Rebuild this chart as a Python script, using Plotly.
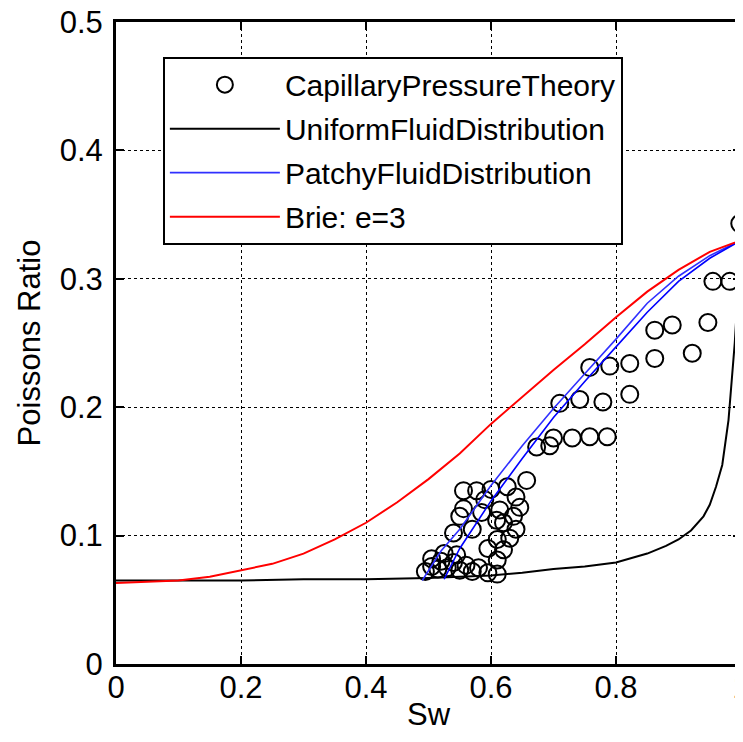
import plotly.graph_objects as go

# Capillary pressure theory (open circles)
cap_sw = [0.495, 0.505, 0.515, 0.52, 0.53, 0.54, 0.55, 0.56, 0.57, 0.58, 0.595, 0.61,
          0.505, 0.525, 0.545,
          0.61, 0.62, 0.61, 0.54, 0.62, 0.55, 0.609, 0.636, 0.556, 0.614, 0.646,
          0.556, 0.577, 0.60, 0.626, 0.657, 0.64, 0.585, 0.59, 0.57, 0.595, 0.63, 0.64,
          0.673, 0.694, 0.70, 0.73, 0.758, 0.786,
          0.71, 0.742, 0.779, 0.822,
          0.758, 0.79, 0.822, 0.862, 0.922,
          0.862, 0.89, 0.947,
          0.955, 0.982,
          0.998]
cap_pr = [0.072, 0.076, 0.074, 0.080, 0.075, 0.079, 0.073, 0.077, 0.072, 0.075, 0.071, 0.070,
          0.082, 0.086, 0.085,
          0.081, 0.089, 0.097, 0.102, 0.110, 0.115, 0.112, 0.115, 0.121, 0.120, 0.122,
          0.135, 0.135, 0.136, 0.138, 0.143, 0.130, 0.118, 0.128, 0.105, 0.090, 0.098, 0.105,
          0.169, 0.170, 0.176, 0.176, 0.177, 0.177,
          0.203, 0.206, 0.204, 0.210,
          0.231, 0.232, 0.234, 0.238, 0.242,
          0.260, 0.264, 0.266,
          0.298, 0.298,
          0.343]

# Uniform fluid distribution
uni_sw = [0, 0.1, 0.2, 0.3, 0.4, 0.5, 0.6, 0.65, 0.7, 0.75, 0.8, 0.85, 0.88, 0.9,
          0.92, 0.94, 0.95, 0.96, 0.97, 0.98, 0.99, 0.995, 1.0]
uni_pr = [0.065, 0.065, 0.065, 0.066, 0.066, 0.067, 0.069, 0.071, 0.074, 0.076, 0.079,
          0.086, 0.092, 0.097, 0.104, 0.115, 0.124, 0.138, 0.155, 0.19, 0.25, 0.29, 0.33]

# Patchy fluid distribution (two curves)
pat1_sw = [0.49, 0.52, 0.55, 0.6, 0.65, 0.7, 0.75, 0.8, 0.85, 0.9, 0.95, 1.0]
pat1_pr = [0.065, 0.088, 0.105, 0.139, 0.170, 0.199, 0.226, 0.253, 0.281, 0.302, 0.318, 0.330]
pat2_sw = [0.525, 0.55, 0.6, 0.65, 0.7, 0.75, 0.8, 0.85, 0.9, 0.95, 1.0]
pat2_pr = [0.066, 0.090, 0.127, 0.160, 0.192, 0.220, 0.247, 0.274, 0.298, 0.316, 0.330]

# Brie, e=3
brie_sw = [0, 0.1, 0.15, 0.2, 0.25, 0.3, 0.35, 0.4, 0.45, 0.5, 0.55, 0.6, 0.65, 0.7,
           0.75, 0.8, 0.85, 0.9, 0.95, 1.0]
brie_pr = [0.063, 0.065, 0.068, 0.073, 0.078, 0.086, 0.097, 0.110, 0.126, 0.144, 0.164,
           0.187, 0.208, 0.229, 0.249, 0.270, 0.290, 0.307, 0.321, 0.330]

x_ticks = [0, 0.2, 0.4, 0.6, 0.8, 1.0]
x_labels = ["0", "0.2", "0.4", "0.6", "0.8", "1"]
y_ticks = [0, 0.1, 0.2, 0.3, 0.4, 0.5]
y_labels = ["0", "0.1", "0.2", "0.3", "0.4", "0.5"]

FONT = "Liberation Sans, Arial, sans-serif"

fig = go.Figure()
fig.add_trace(go.Scatter(x=cap_sw, y=cap_pr, mode="markers", name="CapillaryPressureTheory",
                         legendgroup="a",
                         marker=dict(symbol="circle-open", size=17, color="black",
                                     line=dict(width=2, color="black"))))
fig.add_trace(go.Scatter(x=uni_sw, y=uni_pr, mode="lines", name="UniformFluidDistribution",
                         legendgroup="b", line=dict(color="black", width=2)))
fig.add_trace(go.Scatter(x=pat1_sw, y=pat1_pr, mode="lines", name="PatchyFluidDistribution",
                         legendgroup="c", line=dict(color="#3030ff", width=1.6)))
fig.add_trace(go.Scatter(x=pat2_sw, y=pat2_pr, mode="lines", showlegend=False,
                         legendgroup="c", line=dict(color="#0000ff", width=1.6)))
fig.add_trace(go.Scatter(x=brie_sw, y=brie_pr, mode="lines", name="Brie: e=3",
                         legendgroup="d", line=dict(color="red", width=2)))

axis_common = dict(showline=True, linecolor="black", linewidth=3, mirror="ticks",
                   ticks="inside", ticklen=8, tickcolor="black", tickwidth=2,
                   showgrid=True, gridcolor="black", griddash="dot", gridwidth=1,
                   zeroline=False, tickfont=dict(family=FONT, size=31, color="black"),
                   automargin=False, ticklabeloverflow="allow")

fig.update_layout(
    width=735, height=734,
    margin=dict(l=108, r=2, t=14, b=78),
    paper_bgcolor="white", plot_bgcolor="white",
    font=dict(family=FONT, size=31, color="black"),
    xaxis=dict(range=[0, 1], tickvals=x_ticks, ticktext=x_labels,
               title=dict(text="Sw", font=dict(family=FONT, size=31), standoff=0),
               ticklabelstandoff=-6, **axis_common),
    yaxis=dict(range=[0, 0.5], tickvals=y_ticks, ticktext=y_labels,
               title=dict(text="Poissons Ratio", font=dict(family=FONT, size=31), standoff=10),
               ticklabelstandoff=4, **axis_common),
    legend=dict(x=0.075, y=0.946, xanchor="left", yanchor="top",
                bgcolor="white", bordercolor="black", borderwidth=2,
                itemwidth=110, font=dict(family=FONT, size=30, color="black"),
                tracegroupgap=2),
    showlegend=True,
)

fig.write_html("out.html")
